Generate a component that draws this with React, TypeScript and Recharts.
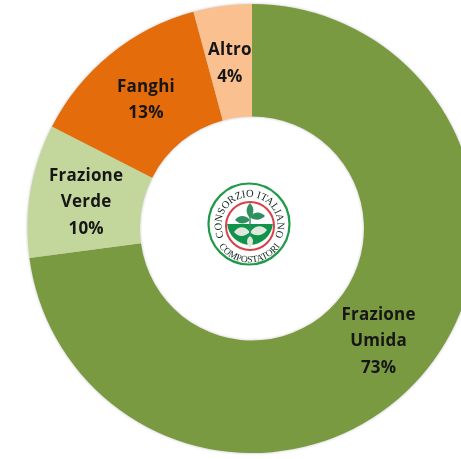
import { PieChart, Pie, Cell } from "recharts"

const categories = ["Frazione Umida", "Frazione Verde", "Fanghi", "Altro"]
const values = [72.9, 9.6, 13.3, 4.2]
const colors = ["#7a9a41", "#c3d69b", "#e46c0a", "#fac090"]

const data = categories.map((name, i) => ({ name, value: values[i] }))

const RAD = Math.PI / 180

function renderLabel(props: any) {
  const { cx, cy, midAngle, innerRadius, outerRadius, name, value } = props
  const r = (innerRadius + outerRadius) / 2
  const x = cx + r * Math.cos(-midAngle * RAD)
  const y = cy + r * Math.sin(-midAngle * RAD)
  const words = name.split(" ")
  const lines = [...words, `${Math.round(value)}%`]
  const lineH = 26.5
  const top = y - ((lines.length - 1) * lineH) / 2
  return (
    <text
      x={x}
      textAnchor="middle"
      dominantBaseline="central"
      fontFamily="'Open Sans', sans-serif"
      fontWeight={700}
      fontSize={17}
      letterSpacing={0.2}
      fill="#161616"
    >
      {lines.map((l: string, i: number) => (
        <tspan key={l} x={x} y={top + i * lineH}>
          {l}
        </tspan>
      ))}
    </text>
  )
}

function Logo() {
  return (
    <svg
      width={92}
      height={92}
      viewBox="0 0 92 92"
      style={{ position: "absolute", left: 203, top: 178, filter: "blur(0.35px)" }}
    >
      <defs>
        <path id="arcTop" d="M 23.6 63 A 28 28 0 1 1 69.4 63" />
        <path id="arcBottom" d="M 9.6 50.2 A 37 37 0 0 0 83.4 50.2" />
      </defs>
      <circle cx="46" cy="46" r="40.5" fill="#fff" stroke="#1f9a4a" strokeWidth="2.2" />
      <circle cx="47" cy="48" r="24" fill="#fff" stroke="#d8404a" strokeWidth="2" />
      <path d="M 24.1 46 A 23 23 0 0 0 69.9 46 Z" fill="#12934a" />
      <path d="M 47 25 C 42 30 43 36 47 40 C 51 36 52 30 47 25 Z" fill="#2f8f5f" />
      <path d="M 46 41 C 41 36 35 38 32 42 C 37 47 42 46 46 43 Z" fill="#2f8f5f" />
      <path d="M 48 38 C 52 33 58 34 62 38 C 57 43 52 42 48 40 Z" fill="#2f8f5f" />
      <rect x="46.3" y="32" width="1.4" height="30" fill="#2f8f5f" />
      <path d="M 46 53 C 40 47 35 49 31 54 C 36 60 42 58 46 55 Z" fill="#dfe8dc" />
      <path d="M 48 53 C 54 46 60 48 64 52 C 59 59 52 58 48 55 Z" fill="#dfe8dc" />
      <path d="M 47 58 C 43 61 43 65 47 70 C 51 65 51 61 47 58 Z" fill="#dfe8dc" />
      <text fontFamily="'Liberation Serif', serif" fontSize={10.5} fill="#14291d">
        <textPath href="#arcTop" startOffset="50%" textAnchor="middle">
          CONSORZIO ITALIANO
        </textPath>
      </text>
      <text fontFamily="'Liberation Serif', serif" fontSize={9.5} fill="#14291d">
        <textPath href="#arcBottom" startOffset="50%" textAnchor="middle">
          COMPOSTATORI
        </textPath>
      </text>
    </svg>
  )
}

export default function App() {
  return (
    <div style={{ position: "absolute", left: 0, top: 0, width: 461, height: 459, overflow: "hidden", background: "#fff" }}>
      <PieChart
        width={500}
        height={459}
        margin={{ top: 0, right: 0, bottom: 0, left: 0 }}
        style={{ filter: "drop-shadow(0 0 1.5px rgba(80,80,80,0.35))" }}
      >
        <Pie
          data={data}
          dataKey="value"
          nameKey="name"
          cx={252}
          cy={228.5}
          innerRadius={112}
          outerRadius={224.5}
          startAngle={90}
          endAngle={-270}
          stroke="none"
          labelLine={false}
          label={renderLabel}
          isAnimationActive={false}
        >
          {data.map((d, i) => (
            <Cell key={d.name} fill={colors[i]} />
          ))}
        </Pie>
      </PieChart>
      <Logo />
    </div>
  )
}
